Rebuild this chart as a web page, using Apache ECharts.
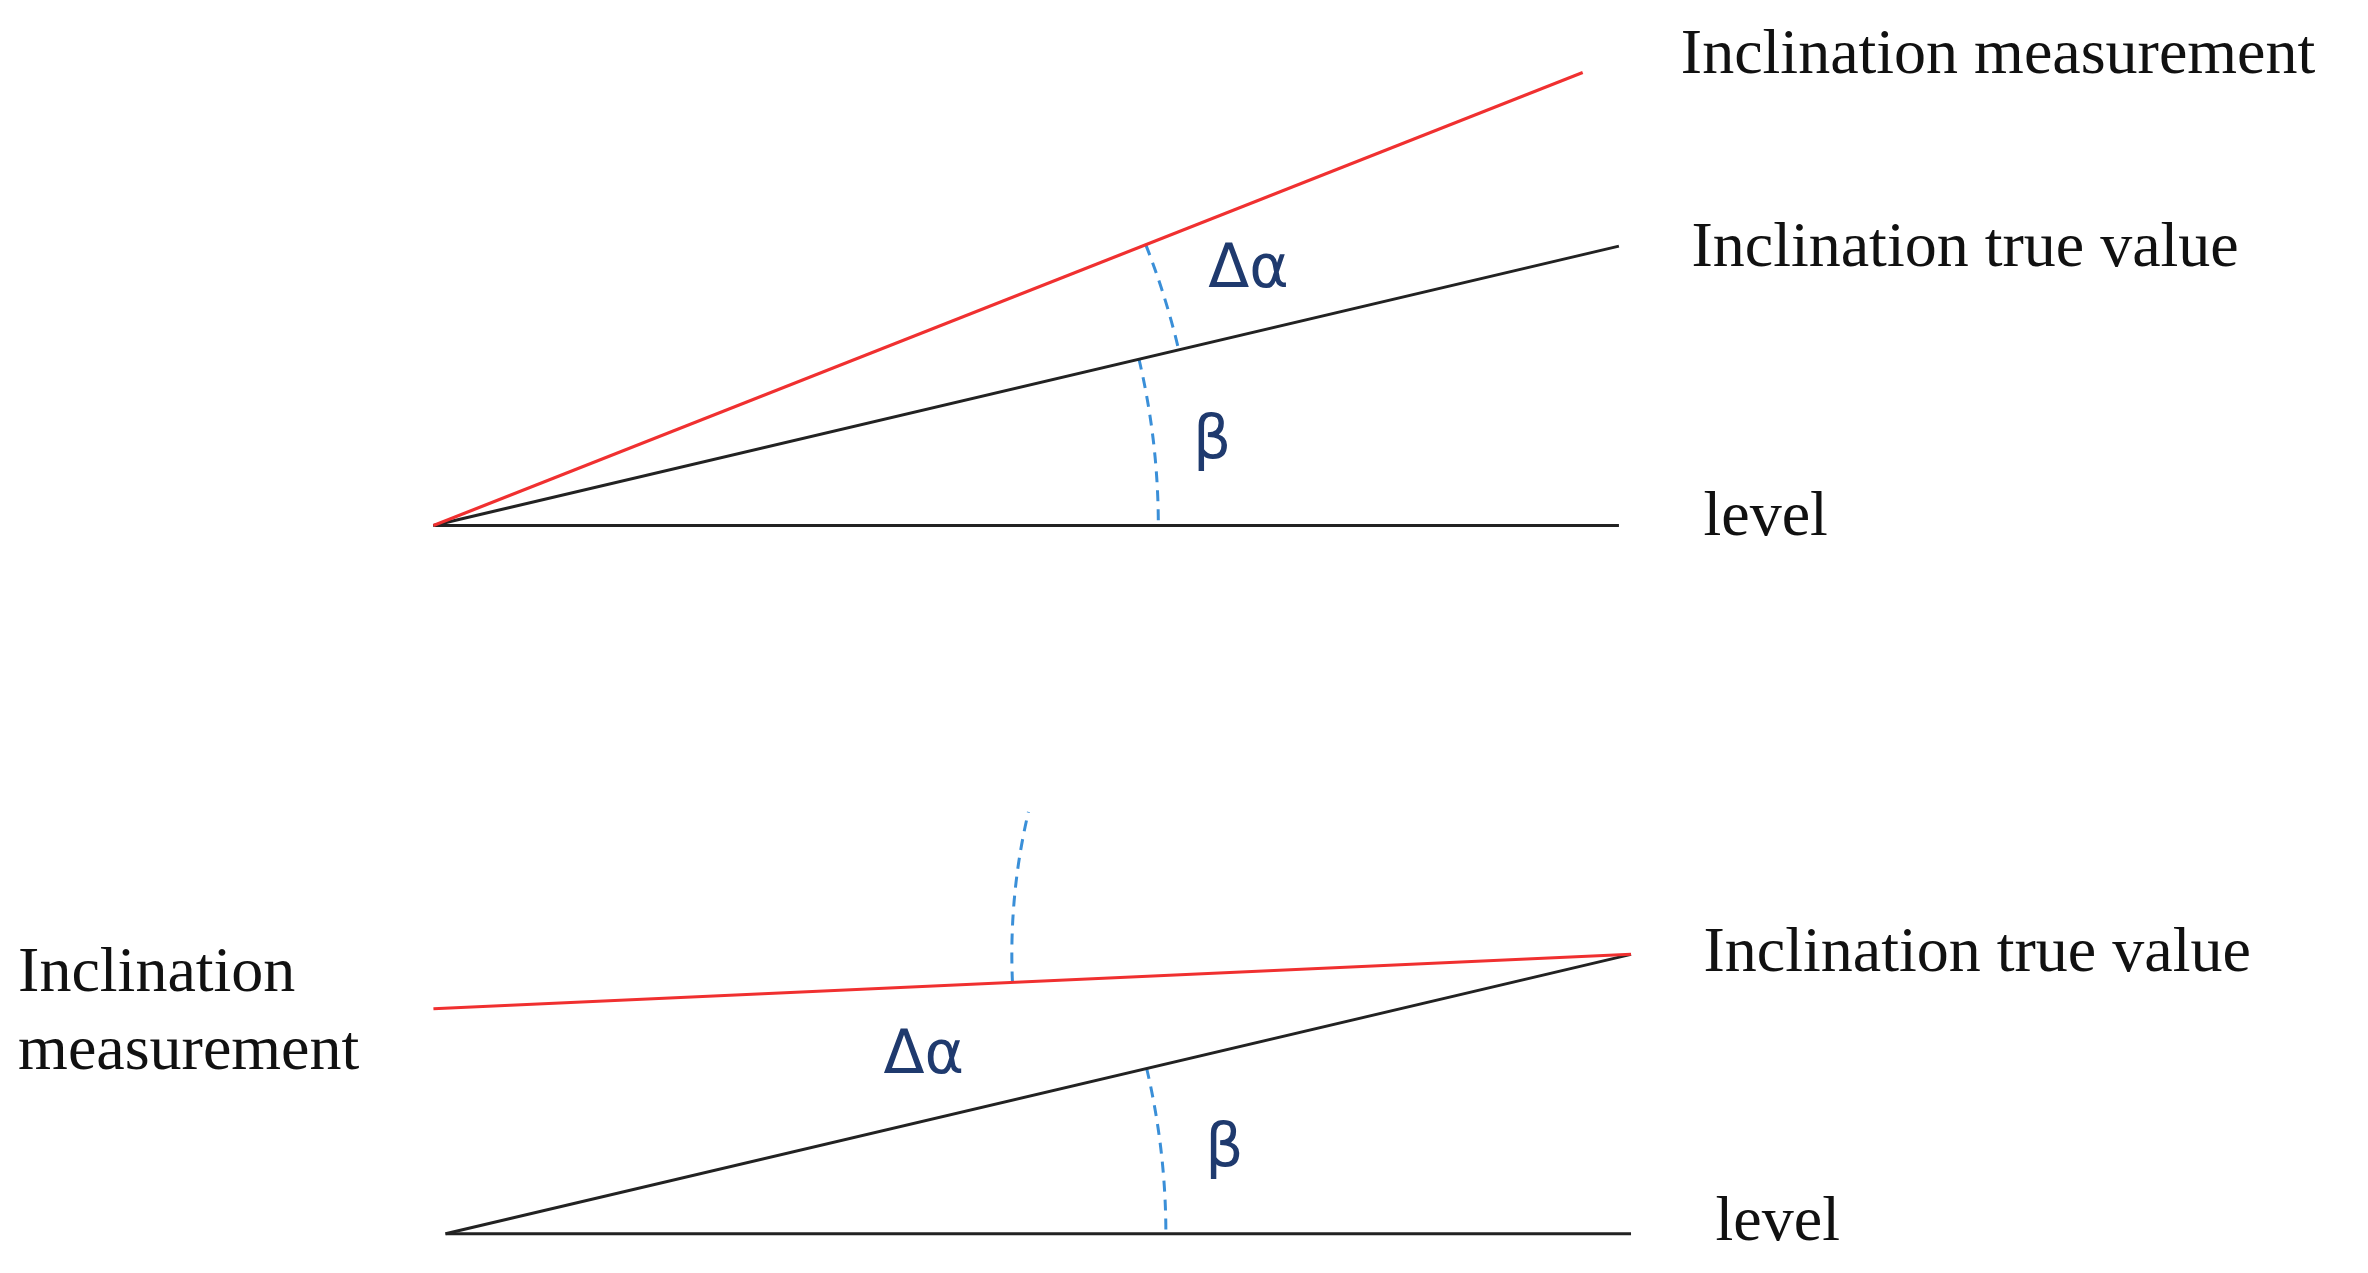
<!DOCTYPE html>
<html><head><meta charset="utf-8">
<script src="https://cdn.jsdelivr.net/npm/echarts@6/dist/echarts.min.js"></script>
<style>html,body{margin:0;padding:0;background:#fff}#c{width:2368px;height:1273px}</style>
</head><body><div id="c"></div>
<script>
// geometry in reference-picture units (x 0..1568, y 0..843, y down)
const blackLines = [
  [[287,348],[1072,348]], [[287,348],[1072,163]],
  [[295,817],[1080,817]], [[295,817],[1080,632]]
];
const redLines = [
  [[287,348],[1048,48]],
  [[287,668],[1080,632]]
];
// arcs: [cx, cy, r, startDeg, endDeg]
const arcs = [
  [287,348,480,-13.3,0],
  [287,348,507,-21.5,-13.3],
  [295,817,477,-13.3,0],
  [1080,632,410,177.4,193.3]
];
// text: [x, y, text, kind]
const labels = [
  [1113,37,'Inclination measurement','serif'],
  [1120,165,'Inclination true value','serif'],
  [1128,343,'level','serif'],
  [1128,632,'Inclination true value','serif'],
  [1136,810,'level','serif'],
  [12,645,'Inclination','serif'],
  [12,697,'measurement','serif'],
  [800,180,'Δα','greek'],
  [790,293,'β','greek'],
  [585,700,'Δα','greek'],
  [798,762,'β','greek']
];
const series = [];
blackLines.forEach(l=>series.push({type:'line',data:l,symbol:'none',silent:true,lineStyle:{color:'#222',width:3}}));
redLines.forEach(l=>series.push({type:'line',data:l,symbol:'none',silent:true,lineStyle:{color:'#f03030',width:3}}));
series.push({type:'custom',data:arcs,renderItem:(p,api)=>{
  const c=api.coord([api.value(0),api.value(1)]);
  const r=api.size([api.value(2),0])[0];
  return {type:'arc',shape:{cx:c[0],cy:c[1],r:r,startAngle:api.value(3)*Math.PI/180,endAngle:api.value(4)*Math.PI/180,clockwise:true},
    style:{fill:null,stroke:'#3a8fd8',lineWidth:3,lineDash:[11,8]}};
}});
series.push({type:'custom',data:labels.map(l=>[l[0],l[1]]),renderItem:(p,api)=>{
  const l=labels[p.dataIndex];
  const c=api.coord([l[0],l[1]]);
  const g=l[3]==='greek';
  return {type:'text',x:c[0],y:c[1],style:{text:l[2],fill:g?'#1f3a6e':'#111',
    font:g?'60px "DejaVu Sans"':'64px "Liberation Serif"',textAlign:'left',textVerticalAlign:'middle'}};
}});
const chart=echarts.init(document.getElementById('c'));
chart.setOption({animation:false,
  grid:{left:0,right:0,top:0,bottom:0},
  xAxis:{type:'value',min:0,max:1568,show:false},
  yAxis:{type:'value',min:0,max:843,inverse:true,show:false},
  series:series});
</script></body></html>
